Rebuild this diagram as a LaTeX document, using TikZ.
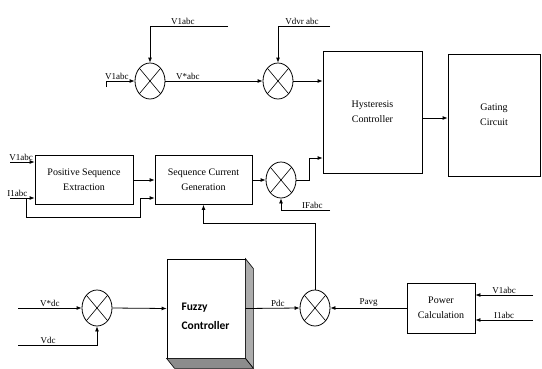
\documentclass[tikz,border=0pt]{standalone}
\usepackage{fontspec}
\setmainfont{Liberation Serif}
\newfontfamily\fuzzyfont{Carlito}
\usetikzlibrary{arrows.meta,positioning,shapes.geometric}

\begin{document}
\begin{tikzpicture}[x=1pt,y=-1pt,
	block/.style={draw,fill=white,line width=0.8pt,align=center,font=\fontsize{10}{15}\selectfont},
	sumnode/.style={draw,ellipse,minimum width=30pt,minimum height=36pt,inner sep=0pt,line width=0.8pt,
		path picture={\draw[line width=0.6pt] (path picture bounding box.north west) -- (path picture bounding box.south east)
			(path picture bounding box.north east) -- (path picture bounding box.south west);}},
	lbl/.style={font=\fontsize{9}{10}\selectfont,inner sep=1pt},
	wire/.style={line width=0.8pt,-{Latex[length=5pt,width=4pt]}},
	plain/.style={line width=0.8pt}]
			\useasboundingbox (0,0) rectangle (542,368);
			% summing junctions
			\node[sumnode] (s1) at (150,81) {};
			\node[sumnode] (s2) at (278,81) {};
			\node[sumnode] (s3) at (281,180) {};
			\node[sumnode] (s4) at (315,308) {};
			\node[sumnode] (s5) at (97,308) {};
			% blocks
			\node[block,minimum width=99pt,minimum height=122pt] (hyst) at (372.5,112) {Hysteresis\\Controller};
			\node[block,minimum width=92pt,minimum height=122pt] (gate) at (494,115) {Gating\\Circuit};
			\node[block,minimum width=98pt,minimum height=49pt] (pse) at (84,180) {Positive Sequence\\Extraction};
			\node[block,minimum width=97pt,minimum height=49pt] (scg) at (203.5,180) {Sequence Current\\Generation};
			\node[block,minimum width=68pt,minimum height=50pt] (power) at (441,308) {Power\\Calculation};
			\node[block,minimum width=78pt,minimum height=99pt] (fuzzy) at (206,308.5) {};
			\filldraw[fill=gray!65,line width=0.6pt] (fuzzy.north east) -- ++(8,10) -- ([shift={(8,10)}]fuzzy.south east) -- (fuzzy.south east) -- cycle;
			\filldraw[fill=gray!90,line width=0.6pt] (fuzzy.south west) -- ++(8,10) -- ([shift={(8,10)}]fuzzy.south east) -- (fuzzy.south east) -- cycle;
			\node[anchor=west,align=left,font=\fuzzyfont\bfseries\fontsize{11.5}{19}\selectfont] (fuzzytxt) at (178,316) {Fuzzy\\Controller};
			% free ends
			\coordinate (v1top) at (228,26);
			\coordinate (v1in) at (106,87);
			\coordinate (vdvr) at (330,26);
			\coordinate (vpse) at (10,162);
			\coordinate (ipse) at (10,198);
			\coordinate (ibr) at (26,198);
			\coordinate (ifa) at (330,210);
			\coordinate (vpow) at (533,295);
			\coordinate (ipow) at (533,320);
			\coordinate (vref) at (18,308);
			\coordinate (vdc) at (18,345);
			% connectors
			\draw[wire] (v1top) -| node[lbl,above,pos=0.29] (lv1top) {V1abc} (s1.north);
			\draw[wire] (v1in) |- node[lbl,above,pos=0.69] (lv1in) {V1abc} (s1.west);
			\draw[wire] (s1.east) -- node[lbl,above,pos=0.23] (lvref) {V*abc} (s2.west);
			\draw[wire] (vdvr) -| node[lbl,above,pos=0.27] (lvdvr) {Vdvr abc} (s2.north);
			\draw[wire] (s2.east) -- (s2.east -| hyst.west);
			\draw[wire] ([yshift=-6pt]hyst.east) -- ([yshift=-6pt]hyst.east -| gate.west);
			\draw[wire] (vpse) -- node[lbl,above,pos=0.45] (lvpse) {V1abc} (vpse -| pse.west);
			\draw[wire] (ipse) -- node[lbl,above,pos=0.3] (lipse) {I1abc} (ipse -| pse.west);
			\draw[wire] (ibr) |- (140,217) |- (ipse -| scg.west);
			\draw[wire] (pse.east) -- (scg.west);
			\draw[wire] (scg.east) -- (s3.west);
			\draw[wire] (s3.east) -- ++(13,0) |- (hyst.west |- 0,158);
			\draw[wire] (ifa) -| node[lbl,above,pos=0.18] (lifa) {IFabc} (s3.south);
			\draw[wire] (s4.north) |- (scg.south |- 0,223) -- (scg.south);
			\draw[wire] (power.west) -- node[lbl,above] (lpavg) {Pavg} (s4.east);
			\draw[wire] (vpow) -- node[lbl,above] (lvpow) {V1abc} (vpow -| power.east);
			\draw[wire] (ipow) -- node[lbl,above] (lipow) {I1abc} (ipow -| power.east);
			\draw[wire] (fuzzy.east) -- node[lbl,above,pos=0.6] (lpdc) {Pdc} (s4.west);
			\draw[wire] (s5.east) -- (fuzzy.west);
			\draw[wire] (vref) -- node[lbl,above,pos=0.5] (lvdcref) {V*dc} (s5.west);
			\draw[wire] (vdc) -| node[lbl,above,pos=0.19] (lvdc) {Vdc} (s5.south);
		\end{tikzpicture}
\end{document}
